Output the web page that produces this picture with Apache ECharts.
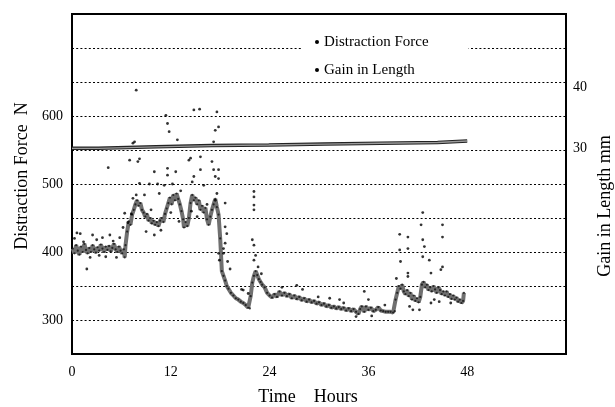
<!DOCTYPE html>
<html>
<head>
<meta charset="utf-8">
<script src="https://cdn.jsdelivr.net/npm/echarts@6/dist/echarts.min.js"></script>
<style>html,body{margin:0;padding:0;background:#fff}#c{width:615px;height:407px}</style>
</head>
<body>
<div id="c"></div>
<script>
// ---- Data ----
const timeTicks = [0, 12, 24, 36, 48];
const forceTicks = [300, 400, 500, 600];
const gainTicks = [30, 40];

// Dense band of the Distraction Force record: [hours, N]
const forceTrace = [
  [0.1,405],[0.3,398],[0.5,410],[0.7,402],[0.9,396],[1.1,408],[1.3,400],[1.5,412],[1.7,403],[1.9,398],
  [2.1,406],[2.3,400],[2.5,410],[2.7,404],[2.9,399],[3.1,407],[3.3,402],[3.5,411],[3.7,405],[3.9,400],
  [4.1,408],[4.3,403],[4.5,409],[4.7,401],[4.9,406],[5.1,412],[5.3,404],[5.5,400],[5.7,408],[5.9,402],
  [6.1,398],[6.3,404],[6.4,392],[6.5,410],
  [6.7,430],[6.9,445],[7.1,440],[7.3,455],[7.5,462],[7.7,470],[7.9,476],[8.1,468],[8.3,472],[8.5,462],
  [8.7,458],[8.9,452],[9.1,456],[9.3,446],[9.5,450],[9.7,442],[9.9,446],[10.1,440],[10.3,444],[10.5,438],
  [10.7,446],[10.9,450],[11.1,444],[11.3,456],[11.5,464],[11.7,472],[11.9,480],[12.1,470],[12.3,484],[12.5,476],
  [12.7,486],[12.9,478],[13.1,470],[13.3,460],[13.5,448],[13.6,436],[13.8,444],[14.0,438],[14.2,450],[14.4,472],
  [14.6,484],[14.8,476],[15.0,480],[15.2,470],[15.4,476],[15.6,462],[15.8,468],[16.0,458],[16.2,465],[16.4,448],
  [16.6,440],[16.8,452],[17.0,462],[17.2,470],[17.4,478],[17.6,466],[17.8,455],
  [18.0,420],[18.2,372],[18.4,365],[18.6,358],[18.8,350],[19.0,346],[19.3,340],[19.6,336],[19.9,332],[20.2,330],
  [20.5,327],[20.8,325],[21.1,322],[21.4,318],[21.6,317],
  [21.7,335],[21.9,355],[22.1,365],[22.3,372],[22.5,366],[22.7,360],[22.9,356],[23.1,352],[23.4,348],[23.7,340],
  [24.0,336],[24.3,333],[24.6,338],[24.9,334],[25.2,342],[25.5,336],[25.8,340],[26.1,335],[26.4,338],[26.7,332],
  [27.0,336],[27.3,331],[27.6,334],[27.9,329],[28.2,332],[28.5,327],[28.8,330],[29.1,326],[29.4,328],[29.7,324],
  [30.0,326],[30.3,322],[30.6,324],[30.9,320],[31.2,322],[31.5,318],[31.8,320],[32.1,317],[32.4,319],[32.7,316],
  [33.0,318],[33.3,314],[33.6,317],[33.9,313],[34.2,316],[34.5,312],[34.8,309],[35.0,316],[35.2,320],[35.5,312],
  [35.7,320],[36.0,315],[36.3,318],[36.6,313],[36.9,315],[37.2,319],[37.5,314],[37.8,313],[38.1,312],[38.4,312],
  [38.7,312],[39.0,311],[39.2,313],
  [39.3,330],[39.5,340],[39.7,350],[39.9,346],[40.1,352],[40.3,342],[40.5,338],[40.7,344],[40.9,335],[41.1,340],
  [41.3,330],[41.5,336],[41.7,328],[41.9,332],[42.1,326],[42.3,334],[42.5,352],[42.7,356],[42.9,348],[43.1,352],
  [43.3,344],[43.5,348],[43.7,342],[43.9,350],[44.1,345],[44.3,340],[44.5,348],[44.7,344],[44.9,338],[45.1,342],
  [45.3,336],[45.5,342],[45.7,334],[45.9,338],[46.1,331],[46.3,336],[46.5,330],[46.7,333],[46.9,327],[47.1,330],
  [47.3,325],[47.5,328],[47.6,340]
];

// Scattered Distraction Force readings away from the band: [hours, N]
const forceOutliers = [
  [0.3,420],[0.6,428],[1.0,427],[1.4,415],[1.8,375],[2.2,392],[2.5,425],[3.0,418],[3.3,395],[3.7,421],
  [4.1,393],[4.4,524],[4.6,425],[5.0,416],[5.4,392],[5.8,421],[6.2,436],[6.4,457],
  [6.8,443],[7.0,535],[7.2,456],[7.4,560],[7.4,479],[7.6,562],[7.8,638],[7.8,484],[8.0,533],[8.2,537],
  [8.2,501],[8.8,484],[9.0,430],[9.4,500],[9.6,462],[10.0,518],[10.0,425],[10.4,500],[10.6,486],[10.8,432],
  [11.2,498],[11.4,601],[11.6,589],[11.6,523],[11.6,513],[11.8,577],[12.0,458],[12.2,500],[12.6,518],[12.8,565],
  [13.0,445],[13.2,490],[14.2,535],[14.4,538],[14.5,460],[14.6,503],[14.8,609],[14.8,511],[15.2,452],[15.5,610],
  [15.6,540],[15.6,521],[16.0,498],[16.4,470],[17.0,533],[17.2,562],[17.2,521],[17.4,579],[17.4,511],[17.4,476],
  [17.6,606],[17.6,486],[17.8,584],[17.8,521],[17.8,508],[17.8,398],[17.9,388],[18.4,405],[18.4,398],[18.6,472],
  [18.6,437],[18.6,413],[18.8,427],[18.9,386],[19.2,375],[20.6,345],[20.8,344],
  [21.4,339],[21.9,418],[22.1,489],[22.1,481],[22.1,469],[22.1,462],[22.1,410],[22.1,388],[22.3,395],[22.6,378],
  [23.0,368],
  [25.5,348],[27.3,351],[28.0,345],[29.9,334],[31.3,332],[32.5,330],[33.0,325],[34.5,305],[35.5,342],[36.0,330],
  [36.4,306],[38.0,322],
  [39.4,361],[39.8,426],[39.8,403],[39.9,386],[40.8,422],[40.8,405],[40.8,369],[40.8,364],[41.0,320],[41.4,315],
  [42.2,315],[42.4,440],[42.6,458],[42.6,418],[42.6,393],[42.8,408],[43.4,388],[43.6,369],[43.6,325],[44.0,330],
  [44.6,327],[44.8,374],[45.0,440],[45.0,422],[45.0,378],[46.0,325]
];

// Gain in Length (mm), stepwise record: [hours, mm]
const gainRecord = [
  [0,29.95],[3.2,29.95],[3.2,30.2],[10.2,30.2],[10.2,30.4],[17.0,30.4],[17.0,30.5],[23.9,30.5],
  [23.9,30.65],[30.7,30.65],[30.7,30.8],[37.5,30.8],[37.5,30.9],[44.4,30.9],[44.4,31.15],[48.0,31.15]
];

// ---- Chart ----
const FONT = '"Liberation Serif", "DejaVu Serif", serif';
const chart = echarts.init(document.getElementById('c'), null, {renderer: 'canvas'});

chart.setOption({
  animation: false,
  backgroundColor: '#fff',
  grid: {left: 72, right: 49, top: 14, bottom: 53, show: true, borderColor: '#000', borderWidth: 2, backgroundColor: 'transparent'},
  legend: {
    orient: 'vertical', left: 303, top: 24,
    padding: [10, 40, 3, 12],
    backgroundColor: '#fff',
    itemWidth: 4, itemHeight: 4, itemGap: 12,
    textStyle: {fontFamily: FONT, fontSize: 15, color: '#000', lineHeight: 16},
    data: [
      {name: 'Distraction Force', icon: 'circle', itemStyle: {color: '#000'}},
      {name: 'Gain in Length', icon: 'circle', itemStyle: {color: '#000'}}
    ],
    selectedMode: false
  },
  xAxis: {
    type: 'value', min: 0, max: 60, interval: 12,
    axisLine: {show: false}, axisTick: {show: false}, splitLine: {show: false},
    axisLabel: {
      margin: 11, fontFamily: FONT, fontSize: 14, color: '#000',
      formatter: v => timeTicks.includes(v) ? String(v) : ''
    }
  },
  yAxis: [
    {
      type: 'value', min: 250, max: 750, interval: 50, position: 'left',
      axisLine: {show: false}, axisTick: {show: false},
      splitLine: {show: true, lineStyle: {color: '#000', width: 1, type: [2, 2.2]}},
      axisLabel: {
        margin: 9, fontFamily: FONT, fontSize: 14, color: '#000',
        formatter: v => forceTicks.includes(v) ? String(v) : ''
      }
    },
    {
      type: 'value', min: -3.8, max: 52, position: 'right',
      axisLine: {show: false}, axisTick: {show: false}, splitLine: {show: false},
      axisLabel: {
        customValues: gainTicks, margin: 7, fontFamily: FONT, fontSize: 14, color: '#000'
      }
    }
  ],
  graphic: [
    {type: 'text', x: 22, y: 176, rotation: Math.PI / 2,
     style: {text: 'Distraction Force  N', font: '18px ' + FONT, fill: '#000', align: 'center', verticalAlign: 'middle'}},
    {type: 'text', x: 605, y: 206, rotation: Math.PI / 2,
     style: {text: 'Gain in Length mm', font: '18px ' + FONT, fill: '#000', align: 'center', verticalAlign: 'middle'}},
    {type: 'text', x: 308, y: 397,
     style: {text: 'Time    Hours', font: '18px ' + FONT, fill: '#000', align: 'center', verticalAlign: 'middle'}}
  ],
  series: [
    {name: 'Distraction Force', type: 'line', yAxisIndex: 0, data: forceTrace, symbol: 'none',
     lineStyle: {width: 4, color: '#707070'}, z: 2, silent: true},
    {name: 'Distraction Force', type: 'scatter', yAxisIndex: 0, data: forceTrace, symbolSize: 2.2,
     itemStyle: {color: '#111'}, z: 3, silent: true},
    {name: 'Distraction Force', type: 'scatter', yAxisIndex: 0, data: forceOutliers, symbolSize: 2.8,
     itemStyle: {color: '#000'}, z: 3, silent: true},
    {name: 'Gain in Length', type: 'line', yAxisIndex: 1, data: gainRecord, symbol: 'none',
     lineStyle: {width: 3.5, color: '#222'}, z: 2, silent: true},
    {name: 'Gain in Length', type: 'line', yAxisIndex: 1, data: gainRecord, symbol: 'none',
     lineStyle: {width: 1.4, color: '#9a9a9a'}, z: 3, silent: true}
  ]
});
</script>
</body>
</html>
